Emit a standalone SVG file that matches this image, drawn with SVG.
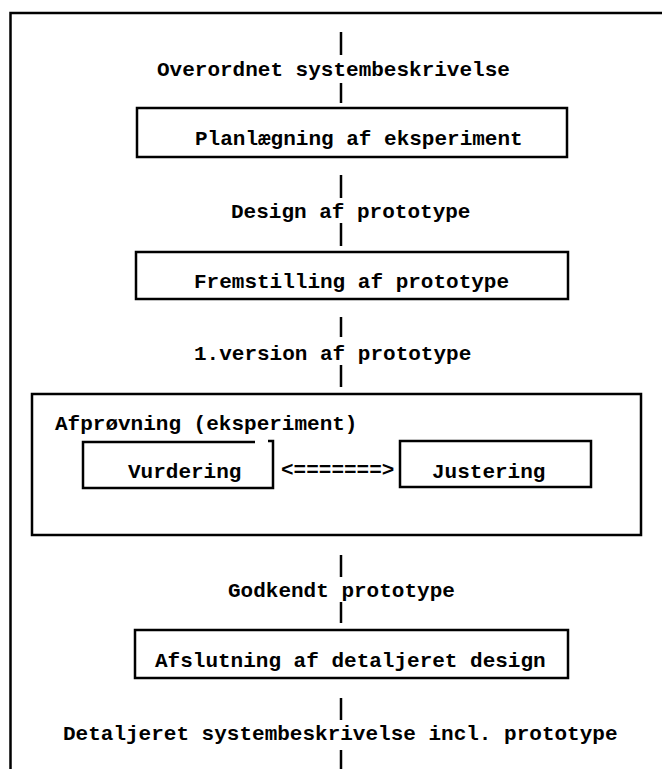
<svg xmlns="http://www.w3.org/2000/svg" width="662" height="769" viewBox="0 0 662 769">
<style>
.t{font-family:"Liberation Mono","DejaVu Sans Mono",monospace;font-weight:bold;font-size:21px;fill:#000}
.b{fill:none;stroke:#000;stroke-width:2.5}
.c{stroke:#000;stroke-width:2.5;fill:none}
</style>
<rect width="662" height="769" fill="#fff"/>
<g id="frame">
<path class="b" d="M10.5,769 V13 H662"/>
</g>
<g id="connectors">
<line class="c" x1="341" y1="32" x2="341" y2="55"/>
<line class="c" x1="341" y1="83" x2="341" y2="103"/>
<line class="c" x1="341" y1="175" x2="341" y2="198"/>
<line class="c" x1="341" y1="223" x2="341" y2="246"/>
<line class="c" x1="341" y1="317" x2="341" y2="337"/>
<line class="c" x1="341" y1="365" x2="341" y2="387"/>
<line class="c" x1="341" y1="555" x2="341" y2="577"/>
<line class="c" x1="341" y1="602" x2="341" y2="623"/>
<line class="c" x1="341" y1="698" x2="341" y2="720"/>
<line class="c" x1="341" y1="750" x2="341" y2="769"/>
</g>
<g id="label-overordnet"><text class="t" x="157" y="76">Overordnet systembeskrivelse</text></g>
<g id="node-planlaegning">
<rect class="b" x="137" y="108" width="430" height="49"/>
<text class="t" x="195" y="145">Planlægning af eksperiment</text>
</g>
<g id="label-design"><text class="t" x="231" y="218">Design af prototype</text></g>
<g id="node-fremstilling">
<rect class="b" x="136" y="252" width="432" height="47"/>
<text class="t" x="194" y="288">Fremstilling af prototype</text>
</g>
<g id="label-version"><text class="t" x="194" y="360">1.version af prototype</text></g>
<g id="node-afproevning">
<rect class="b" x="32" y="394" width="609" height="141"/>
<text class="t" x="55" y="430">Afprøvning (eksperiment)</text>
</g>
<g id="node-vurdering">
<path class="b" d="M255,442 H83 V488 H273 V441 H268"/>
<text class="t" x="128" y="478">Vurdering</text>
</g>
<g id="label-arrow"><text class="t" x="281" y="476">&lt;=======&gt;</text></g>
<g id="node-justering">
<rect class="b" x="400" y="441" width="191" height="46"/>
<text class="t" x="432" y="478">Justering</text>
</g>
<g id="label-godkendt"><text class="t" x="228" y="597">Godkendt prototype</text></g>
<g id="node-afslutning">
<rect class="b" x="135" y="630" width="433" height="48"/>
<text class="t" x="155" y="667">Afslutning af detaljeret design</text>
</g>
<g id="label-detaljeret"><text class="t" x="63" y="740">Detaljeret systembeskrivelse incl. prototype</text></g>
</svg>
